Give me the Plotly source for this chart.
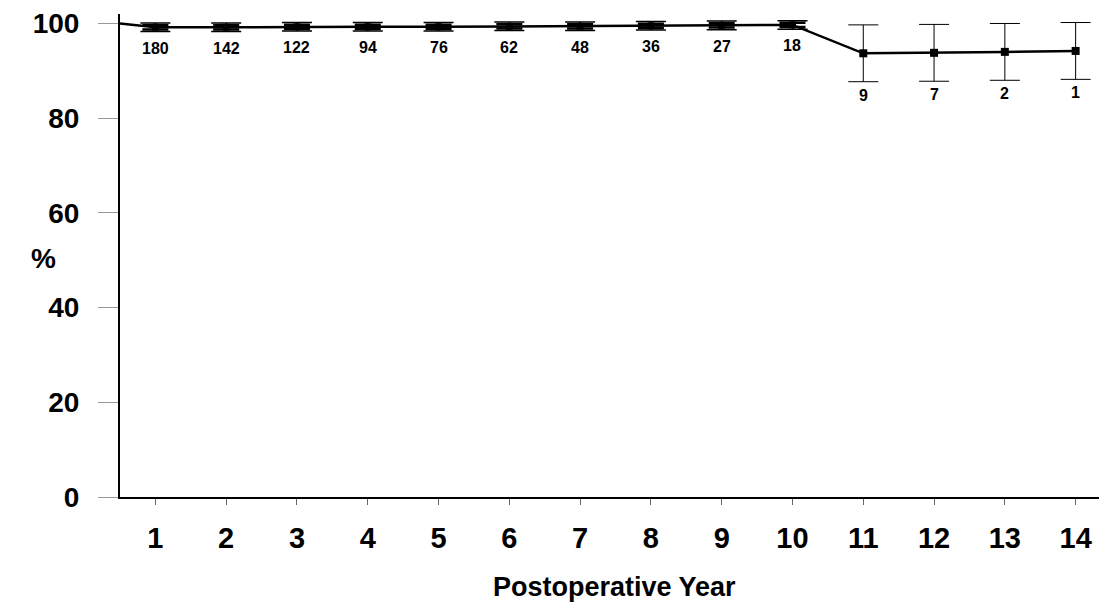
import plotly.graph_objects as go

years = [1, 2, 3, 4, 5, 6, 7, 8, 9, 10, 11, 12, 13, 14]
survival = [99.2, 99.2, 99.3, 99.3, 99.3, 99.4, 99.4, 99.5, 99.6, 99.7, 93.7, 93.8, 94.0, 94.2]
err = [0.9, 0.9, 0.9, 0.9, 0.9, 0.9, 0.9, 0.9, 0.9, 0.9, 6.0, 6.0, 6.0, 6.0]
at_risk = ["180", "142", "122", "94", "76", "62", "48", "36", "27", "18", "9", "7", "2", "1"]
y_ticks = [0, 20, 40, 60, 80, 100]
start_x = 0.5
start_y = 100

FONT = "Liberation Sans, Arial, sans-serif"
n_early = 10

fig = go.Figure()

# survival curve
fig.add_trace(go.Scatter(
    x=[start_x] + years, y=[start_y] + survival, mode="lines",
    line=dict(color="black", width=2.5), hoverinfo="skip", showlegend=False))

# early years: small, heavy error bars
fig.add_trace(go.Scatter(
    x=years[:n_early], y=survival[:n_early], mode="markers",
    marker=dict(symbol="square", size=7, color="black"),
    error_y=dict(type="data", array=err[:n_early], color="black", thickness=1.5, width=15),
    showlegend=False))
fig.add_trace(go.Scatter(
    x=years[:n_early], y=survival[:n_early], mode="markers",
    marker=dict(symbol="square", size=1, color="black"),
    error_y=dict(type="data", array=[e * 0.5 for e in err[:n_early]], color="black", thickness=2.5, width=13),
    showlegend=False))

# late years: wide thin error bars
fig.add_trace(go.Scatter(
    x=years[n_early:], y=survival[n_early:], mode="markers",
    marker=dict(symbol="square", size=8, color="black"),
    error_y=dict(type="data", array=err[n_early:], color="black", thickness=1, width=15),
    showlegend=False))

for i, (x, y, e, t) in enumerate(zip(years, survival, err, at_risk)):
    fig.add_annotation(x=x, y=y - e, text=t, showarrow=False, yanchor="top",
                       yshift=-6 if i < n_early else -3,
                       font=dict(family=FONT, size=16, color="black", weight="bold"))

fig.add_annotation(text="%", xref="paper", yref="paper", x=-0.093, y=0.494,
                   yanchor="middle", showarrow=False,
                   font=dict(family=FONT, size=28, color="black", weight="bold"))
fig.add_annotation(text="Postoperative Year", xref="paper", yref="paper", x=0.505, y=-0.186,
                   yanchor="middle", showarrow=False,
                   font=dict(family=FONT, size=27, color="black", weight="bold"))

fig.update_layout(
    width=1099, height=603,
    margin=dict(l=120, r=0, t=13.5, b=106, autoexpand=False),
    plot_bgcolor="white", paper_bgcolor="white",
    showlegend=False,
    xaxis=dict(range=[0.5, 14.33], tickmode="array", tickvals=years,
               ticktext=[str(y) for y in years],
               showgrid=False, zeroline=False, showline=True, linecolor="black", linewidth=2,
               ticks="outside", ticklen=6, tickcolor="#666", tickwidth=1,
               ticklabelstandoff=8,
               tickfont=dict(family=FONT, size=29, color="black", weight="bold")),
    yaxis=dict(range=[0, 102], tickmode="array", tickvals=y_ticks,
               showgrid=False, zeroline=False, showline=True, linecolor="black", linewidth=2,
               ticks="outside", ticklen=20, tickcolor="#999", tickwidth=1,
               ticklabelstandoff=13,
               tickfont=dict(family=FONT, size=28, color="black", weight="bold")),
)

fig.write_html("out.html", config={"displayModeBar": False},
               post_script="document.body.style.margin='0';document.body.style.padding='0';")
